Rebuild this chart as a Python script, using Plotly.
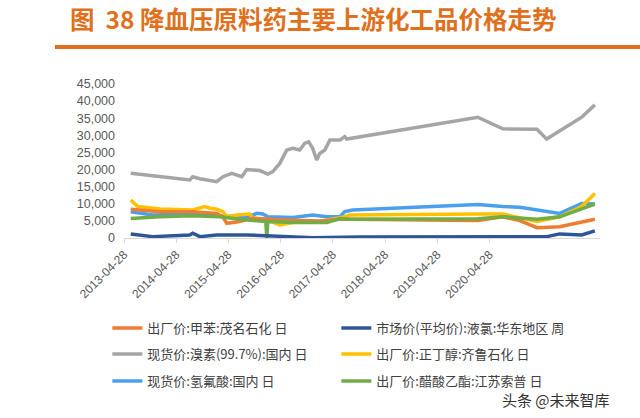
import plotly.graph_objects as go

# ---------------- data ----------------
tick_dates = ["2013-04-28", "2014-04-28", "2015-04-28", "2016-04-28",
              "2017-04-28", "2018-04-28", "2019-04-28", "2020-04-28"]

toluene_x = ["2013-06-14", "2014-01-04", "2014-08-22", "2015-02-06", "2015-03-21", "2015-04-17",
             "2015-07-16", "2015-10-16", "2016-04-01", "2017-01-26", "2017-06-17", "2017-08-24",
             "2020-02-06", "2020-07-30", "2020-11-26", "2021-03-26", "2021-09-01", "2022-05-05"]
toluene_y = [8400, 7700, 7700, 7200, 6200, 4300, 4800, 5800, 5300, 5000, 5500, 5500,
             5100, 6200, 5100, 3000, 3300, 5500]

chlorine_x = ["2013-06-14", "2013-11-15", "2014-08-01", "2014-08-22", "2014-10-11", "2015-02-06",
              "2015-09-04", "2016-01-22", "2016-07-22", "2016-12-08", "2017-11-02", "2020-02-06",
              "2021-06-02", "2021-09-01", "2022-02-02", "2022-05-05"]
chlorine_y = [1200, 400, 900, 1400, 400, 900, 900, 600, 400, 100, 300, 400,
              400, 1200, 900, 2100]

bromine_x = ["2013-06-14", "2014-08-01", "2014-08-22", "2014-10-11", "2015-02-06", "2015-03-21",
             "2015-05-22", "2015-07-31", "2015-09-04", "2015-12-04", "2016-01-29", "2016-03-04",
             "2016-04-22", "2016-06-10", "2016-07-22", "2016-09-08", "2016-10-14", "2016-11-10",
             "2016-12-08", "2017-01-05", "2017-01-26", "2017-03-03", "2017-04-07", "2017-06-17",
             "2017-07-20", "2017-08-03", "2020-02-06", "2020-07-30", "2021-03-26", "2021-06-02",
             "2022-02-02", "2022-05-05"]
bromine_y = [18900, 16950, 17900, 17300, 16450, 17900, 18900, 17900, 20000, 19700, 18700, 19400,
             21800, 25700, 26200, 25700, 27700, 28100, 26200, 22800, 24700, 25700, 28600, 28600,
             29600, 28900, 35300, 31900, 31800, 28900, 35300, 38900]

butanol_x = ["2013-06-14", "2013-08-03", "2014-01-04", "2014-08-22", "2014-11-15", "2014-12-20",
             "2015-02-06", "2015-03-21", "2015-04-17", "2015-06-25", "2015-09-25", "2015-10-16",
             "2016-01-22", "2016-04-22", "2016-07-22", "2017-01-26", "2017-06-17", "2017-08-24",
             "2020-02-06", "2020-07-30", "2021-03-26", "2021-09-01", "2022-02-02", "2022-05-05"]
butanol_y = [11100, 9200, 8500, 8200, 9200, 8700, 8400, 7700, 6200, 6700, 7000, 5800,
             5300, 3800, 4500, 4800, 5900, 6700, 7000, 7000, 4800, 6200, 9200, 13000]

hf_x = ["2013-06-14", "2013-11-15", "2014-08-22", "2015-04-17", "2015-09-04", "2015-11-13",
        "2015-12-25", "2016-01-29", "2016-07-22", "2016-12-08", "2017-03-17", "2017-06-17",
        "2017-07-20", "2017-09-14", "2020-02-06", "2020-07-30", "2020-11-26", "2021-09-01",
        "2022-02-02", "2022-05-05"]
hf_y = [7700, 6700, 7000, 6400, 6000, 7200, 7000, 6200, 6000, 6700, 6200, 6200,
        7700, 8200, 9800, 9200, 9000, 7200, 10100, 9900]

ethyl_x = ["2013-06-14", "2014-01-04", "2014-08-22", "2015-02-27", "2015-07-16", "2015-12-04",
           "2016-01-15", "2016-01-22", "2016-01-29", "2016-07-22", "2017-03-17", "2017-06-17",
           "2017-08-24", "2020-02-06", "2020-07-30", "2021-03-26", "2021-09-01", "2022-05-05"]
ethyl_y = [5700, 6200, 6500, 6200, 5500, 5000, 4800, 0, 4800, 4500, 4500, 5700,
           5500, 5600, 6200, 5500, 6200, 9900]

names = ["出厂价:甲苯:茂名石化 日", "市场价(平均价):液氯:华东地区 周",
         "现货价:溴素(99.7%):国内 日", "出厂价:正丁醇:齐鲁石化 日",
         "现货价:氢氟酸:国内 日", "出厂价:醋酸乙酯:江苏索普 日"]
colors = ["#ED7D31", "#2F5597", "#A5A5A5", "#FFC000", "#4A9FEF", "#70AD47"]

series = [(toluene_x, toluene_y), (chlorine_x, chlorine_y), (bromine_x, bromine_y),
          (butanol_x, butanol_y), (hf_x, hf_y), (ethyl_x, ethyl_y)]

# ---------------- figure ----------------
fig = go.Figure()
draw_order = [2, 4, 3, 0, 5, 1]
legend_of = ["legend", "legend", "legend2", "legend2", "legend3", "legend3"]
for i in draw_order:
    xs, ys = series[i]
    fig.add_trace(go.Scatter(x=xs, y=ys, mode="lines", name=names[i],
                             legend=legend_of[i], legendrank=i + 1,
                             line=dict(color=colors[i], width=3.5)))

def legend_row(top_px):
    return dict(orientation="h", x=-0.035, y=-(top_px - 238) / 154,
                xanchor="left", yanchor="top",
                entrywidth=184, entrywidthmode="pixels", traceorder="normal",
                font=dict(size=13, color="#404040"), itemwidth=30,
                bgcolor="rgba(0,0,0,0)")

fig.update_layout(
    width=640, height=418,
    margin=dict(l=124, r=40, t=84, b=180),
    paper_bgcolor="white", plot_bgcolor="white",
    font=dict(family="Noto Sans CJK SC, Liberation Sans, sans-serif", color="#404040"),
    showlegend=True,
    legend=legend_row(313), legend2=legend_row(339), legend3=legend_row(366),
)

fig.update_xaxes(type="date", range=["2013-04-28", "2022-06-10"],
                 tickvals=tick_dates, ticktext=tick_dates, tickangle=-45,
                 tickfont=dict(family="Liberation Sans, Arial, sans-serif", size=12, color="#595959"),
                 showgrid=False, zeroline=False, showline=True, linecolor="#D9D9D9", linewidth=1,
                 ticks="outside", ticklen=4, tickcolor="#D9D9D9")
fig.update_yaxes(range=[0, 45000], dtick=5000, tickformat=",d",
                 tickfont=dict(family="Liberation Sans, Arial, sans-serif", size=12.5, color="#595959"),
                 ticklabelstandoff=8,
                 showgrid=False, zeroline=False, showline=False, ticks="")

fig.add_annotation(xref="paper", yref="paper", x=(68 - 124) / 476, y=1 + (84 - 18) / 154,
                   xanchor="left", yanchor="middle", showarrow=False,
                   text="<b>图  38 降血压原料药主要上游化工品价格走势</b>",
                   font=dict(family="Noto Sans CJK SC", size=24.5, color="#E0701C"))
fig.add_shape(type="line", xref="paper", yref="paper",
              x0=(55 - 124) / 476, x1=(640 - 124) / 476,
              y0=1 + (84 - 47) / 154, y1=1 + (84 - 47) / 154,
              line=dict(color="#E0701C", width=4))
fig.add_annotation(xref="paper", yref="paper", x=(612 - 124) / 476, y=-(399 - 238) / 154,
                   xanchor="right", yanchor="middle", showarrow=False,
                   text="头条 @未来智库",
                   font=dict(family="Noto Sans CJK SC", size=15, color="#333333"))

fig.write_html("out.html")
